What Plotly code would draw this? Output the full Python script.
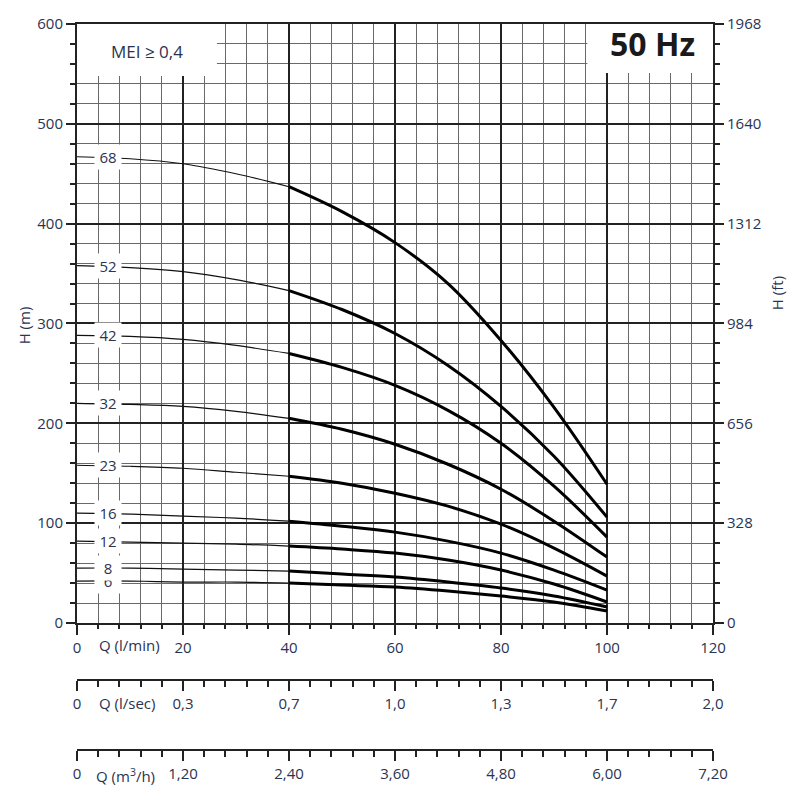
import plotly.graph_objects as go

# flow in l/min, head in m
q_lmin = [0, 10, 20, 30, 40, 50, 60, 70, 80, 90, 100]
h_68 = [467, 465, 460, 450, 437, 412, 381, 340, 283, 216, 139]
h_52 = [358, 356, 352, 344, 333, 314, 290, 258, 217, 167, 106]
h_42 = [288, 287, 284, 278, 270, 256, 238, 213, 180, 137, 86]
h_32 = [220, 219, 217, 212, 205, 194, 179, 159, 134, 102, 66]
h_23 = [158, 157, 155, 151, 147, 140, 130, 117, 99, 75, 47]
h_16 = [110, 109, 107, 105, 102, 97, 91, 82, 70, 53, 33]
h_12 = [82, 81, 80, 79, 77, 74, 70, 63, 53, 39, 21]
h_8 = [55, 55, 54, 53, 52, 49, 46, 41, 35, 27, 16]
h_6 = [42, 42, 41, 41, 40, 38, 36, 32, 27, 21, 12]

stages = ["68", "52", "42", "32", "23", "16", "12", "8", "6"]
heads = [h_68, h_52, h_42, h_32, h_23, h_16, h_12, h_8, h_6]

# axis labels
q_ticks = [0, 20, 40, 60, 80, 100, 120]
lsec_text = ["0", "0,3", "0,7", "1,0", "1,3", "1,7", "2,0"]
m3h_text = ["0", "1,20", "2,40", "3,60", "4,80", "6,00", "7,20"]
h_ticks = [0, 100, 200, 300, 400, 500, 600]
ft_text = ["0", "328", "656", "984", "1312", "1640", "1968"]

TXT = "#2b3352"
FONT = "Open Sans"
split = q_lmin.index(40)

fig = go.Figure()
for name, h in zip(stages, heads):
    fig.add_scatter(x=q_lmin[:split + 1], y=h[:split + 1], mode="lines",
                    line=dict(color="#111", width=1.2, shape="spline"),
                    showlegend=False, hoverinfo="skip")
    fig.add_scatter(x=q_lmin[split:], y=h[split:], mode="lines",
                    line=dict(color="#000", width=3, shape="spline"),
                    showlegend=False, hoverinfo="skip")

# empty traces so the extra axes get drawn
fig.add_scatter(x=[None], y=[None], xaxis="x2", yaxis="y", showlegend=False)
fig.add_scatter(x=[None], y=[None], xaxis="x3", yaxis="y", showlegend=False)
fig.add_scatter(x=[None], y=[None], xaxis="x", yaxis="y2", showlegend=False)

# curve labels, bottom first so the upper boxes sit on top
for name, h in reversed(list(zip(stages, heads))):
    fig.add_annotation(x=5.9, y=h[0], text=name, showarrow=False,
                       bgcolor="white", width=24, height=22, borderpad=1,
                       font=dict(family=FONT, size=15, color=TXT))

# white boxes behind the texts at the top
fig.add_shape(type="rect", x0=0, x1=26.4, y0=548, y1=600, layer="between",
              fillcolor="white", line=dict(width=0))
fig.add_shape(type="rect", x0=96.3, x1=120, y0=551, y1=600, layer="between",
              fillcolor="white", line=dict(width=0))

fig.add_annotation(x=13.2, y=572, text="MEI ≥ 0,4", showarrow=False,
                   font=dict(family=FONT, size=17, color=TXT))
fig.add_annotation(x=108.6, y=580, text="<b>50 Hz</b>", showarrow=False,
                   font=dict(family=FONT, size=32, color="#1a1a1a"))

fig.add_annotation(x=-0.082, xref="paper", xanchor="center", y=298, text="H (m)",
                   textangle=-90, showarrow=False,
                   font=dict(family=FONT, size=15, color=TXT))
fig.add_annotation(x=1.1, xref="paper", xanchor="center", y=330, text="H (ft)",
                   textangle=-90, showarrow=False,
                   font=dict(family=FONT, size=15, color=TXT))

for qx, qy, qtext in [(9.9, 0.1786, "Q (l/min)"), (9.5, 0.1019, "Q (l/sec)"),
                      (9.1, 0.006, "Q (m<sup>3</sup>/h)")]:
    fig.add_annotation(x=qx, y=qy, yref="paper", yanchor="middle", text=qtext,
                       showarrow=False, font=dict(family=FONT, size=15, color=TXT))

tickfont = dict(family=FONT, size=15, color=TXT)
xcommon = dict(range=[0, 120], showline=True, linecolor="#222", linewidth=2,
               ticks="outside", ticklen=10, tickcolor="#222", tickwidth=1.5,
               tickfont=tickfont, tickmode="array", tickvals=q_ticks,
               fixedrange=True)

fig.update_layout(
    width=800, height=800,
    margin=dict(l=77, r=87, t=24, b=20),
    plot_bgcolor="white", paper_bgcolor="white",
    xaxis=dict(**xcommon, mirror=True, showgrid=True, gridcolor="#222", gridwidth=1.5,
               zeroline=False,
               minor=dict(dtick=4, showgrid=True, gridcolor="#6a6a6a", gridwidth=1,
                          ticks="outside", ticklen=4, tickcolor="#222")),
    xaxis2=dict(**xcommon, ticktext=lsec_text, overlaying="x", anchor="free",
                position=0.1323, showgrid=False, zeroline=False,
                minor=dict(dtick=4, ticks="outside", ticklen=6, tickcolor="#222")),
    xaxis3=dict(**xcommon, ticktext=m3h_text, overlaying="x", anchor="free",
                position=0.0397, showgrid=False, zeroline=False,
                minor=dict(dtick=4, ticks="outside", ticklen=6, tickcolor="#222")),
    yaxis=dict(domain=[0.2077, 1], range=[0, 600], showline=True, linecolor="#222",
               linewidth=2, mirror=True, ticks="outside", ticklen=9, tickcolor="#222",
               tickwidth=1.5, tickvals=h_ticks, tickfont=tickfont,
               showgrid=True, gridcolor="#222", gridwidth=1.5, zeroline=False,
               fixedrange=True,
               minor=dict(dtick=20, showgrid=True, gridcolor="#6a6a6a", gridwidth=1,
                          ticks="outside", ticklen=5, tickcolor="#222")),
    yaxis2=dict(range=[0, 600], overlaying="y", side="right", showline=True,
                linecolor="#222", linewidth=2, ticks="outside", ticklen=9,
                tickcolor="#222", tickwidth=1.5, tickmode="array", tickvals=h_ticks,
                ticktext=ft_text, tickfont=tickfont, showgrid=False, zeroline=False,
                fixedrange=True,
                minor=dict(dtick=20, ticks="outside", ticklen=5, tickcolor="#222")),
)

# drop the default page margin so the figure sits at the window corner
fig.write_html("out.html", config={"displayModeBar": False},
               post_script="document.body.style.margin = '0';")
